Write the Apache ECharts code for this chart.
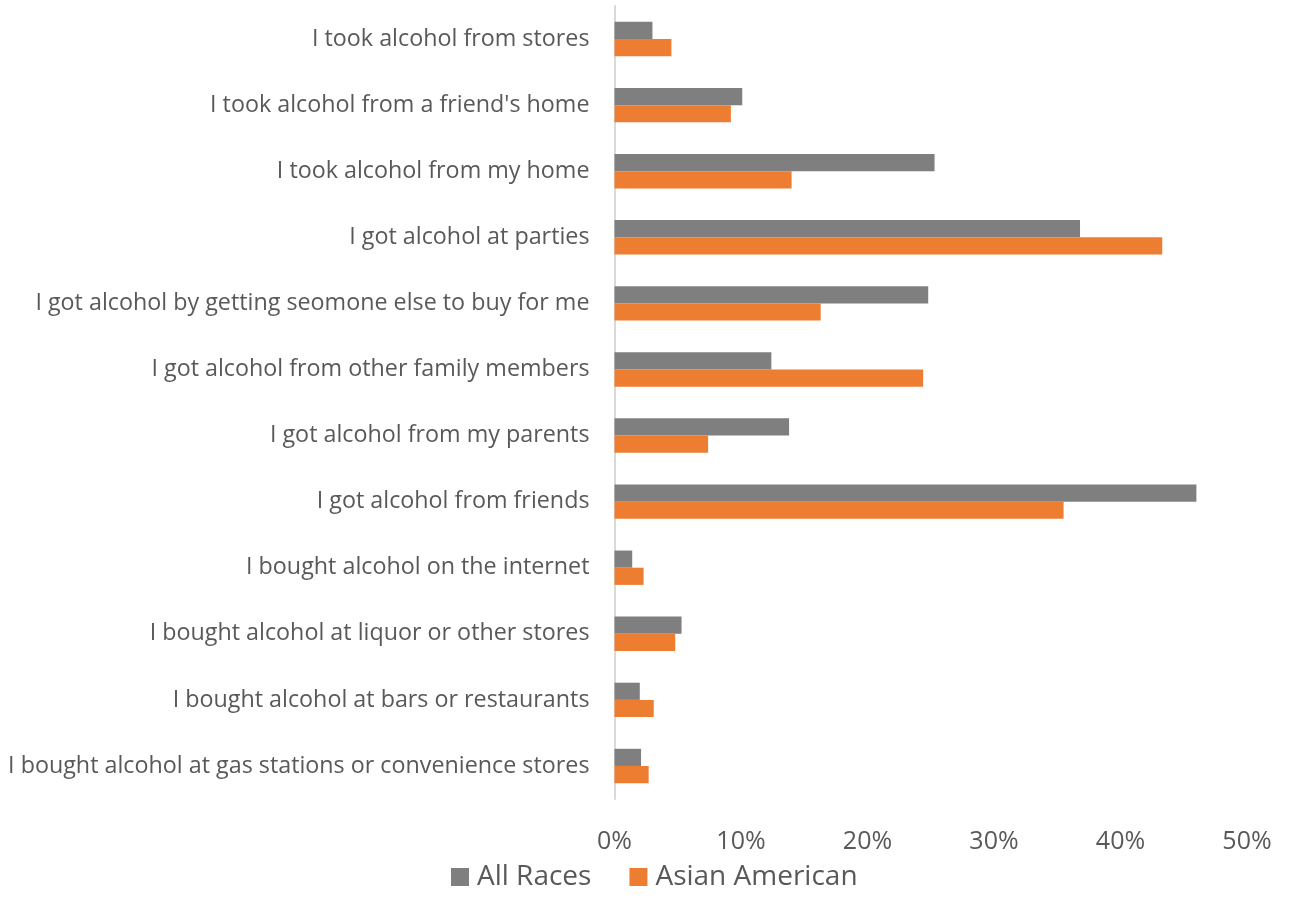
<!DOCTYPE html>
<html>
<head>
<meta charset="utf-8">
<script src="https://cdn.jsdelivr.net/npm/echarts@6/dist/echarts.min.js"></script>
<style>
html,body{margin:0;padding:0;background:#fff;}
#chart{width:1293px;height:920px;}
</style>
</head>
<body>
<div id="chart"></div>
<script>
const categories = [
  "I took alcohol from stores",
  "I took alcohol from a friend's home",
  "I took alcohol from my home",
  "I got alcohol at parties",
  "I got alcohol by getting seomone else to buy for me",
  "I got alcohol from other family members",
  "I got alcohol from my parents",
  "I got alcohol from friends",
  "I bought alcohol on the internet",
  "I bought alcohol at liquor or other stores",
  "I bought alcohol at bars or restaurants",
  "I bought alcohol at gas stations or convenience stores"
];
const allRaces = [3.0, 10.1, 25.3, 36.8, 24.8, 12.4, 13.8, 46.0, 1.4, 5.3, 2.0, 2.1];
const asianAmerican = [4.5, 9.2, 14.0, 43.3, 16.3, 24.4, 7.4, 35.5, 2.3, 4.8, 3.1, 2.7];
const xTicks = [0, 10, 20, 30, 40, 50];

const chart = echarts.init(document.getElementById('chart'));
const font = "'Open Sans', 'Noto Sans', sans-serif";
chart.setOption({
  animation: false,
  textStyle: { fontFamily: font },
  legend: {
    top: 858,
    left: 446,
    itemWidth: 18,
    itemHeight: 18,
    itemGap: 38,
    icon: 'rect',
    textStyle: { fontSize: 28, color: '#595959', fontFamily: font, padding: [0, 0, 0, 3] },
    data: ['All Races', 'Asian American']
  },
  grid: { left: 614.5, right: 46, top: 6, bottom: 121, containLabel: false },
  xAxis: {
    type: 'value',
    min: xTicks[0],
    max: xTicks[xTicks.length - 1],
    interval: 10,
    axisLine: { show: false },
    axisTick: { show: false },
    splitLine: { show: false },
    axisLabel: {
      formatter: v => v + '%',
      fontSize: 25,
      color: '#595959',
      margin: 30,
      fontFamily: font
    }
  },
  yAxis: {
    type: 'category',
    inverse: true,
    data: categories,
    axisLine: { show: true, lineStyle: { color: '#d9d9d9', width: 2 } },
    axisTick: { show: false },
    axisLabel: { fontSize: 23.3, color: '#595959', margin: 25, fontFamily: font }
  },
  series: [
    {
      name: 'All Races',
      type: 'bar',
      data: allRaces,
      barGap: '0%',
      barCategoryGap: '48%',
      itemStyle: { color: '#7f7f7f' }
    },
    {
      name: 'Asian American',
      type: 'bar',
      data: asianAmerican,
      barGap: '0%',
      barCategoryGap: '48%',
      itemStyle: { color: '#ed7d31' }
    }
  ]
});
</script>
</body>
</html>
